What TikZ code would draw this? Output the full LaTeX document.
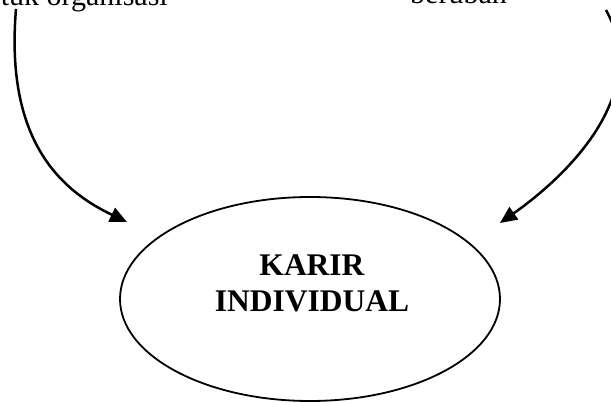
\documentclass[tikz,border=0pt]{standalone}
\usepackage{fontspec}
\setmainfont{Liberation Serif}
\usetikzlibrary{shapes.geometric,arrows.meta}
\tikzset{
  txt/.style={inner sep=0pt,font=\fontsize{30}{36}\selectfont},
  title/.style={inner sep=0pt,font=\fontsize{31.5}{36}\selectfont\bfseries},
  bubble/.style={draw,ellipse,line width=1.8pt,minimum width=380pt,minimum height=204pt,inner sep=0pt},
  conn/.style={line width=2.5pt,-{Triangle[length=17pt,width=15pt]}}
}
\begin{document}
\begin{tikzpicture}[x=1pt,y=-1pt]
\clip (0,0) rectangle (611,403);
\node[txt,anchor=base east] (t1) at (168,6) {tuk organisasi};
\node[txt,anchor=base west] (t2) at (410,3.5) {berubah};
\node[bubble] (e) at (310,299) {};
\node[title,anchor=base] (k1) at (312,276) {KARIR};
\node[title,anchor=base] (k2) at (312,312) {INDIVIDUAL};
\coordinate (s1) at (16,9);
\coordinate (e1) at (127,222);
\coordinate (s2) at (606,10);
\coordinate (e2) at (500,223);
\draw[conn] (s1) .. controls (5,140) and (60,190) .. (e1);
\draw[conn] (s2) .. controls (650,90) and (575,170) .. (e2);
\end{tikzpicture}
\end{document}
